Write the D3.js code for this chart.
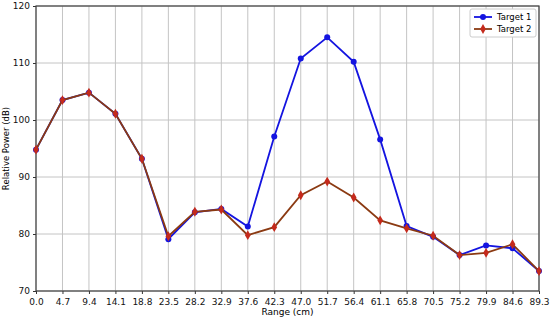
<!DOCTYPE html>
<html>
<head>
<meta charset="utf-8">
<script src="https://cdn.jsdelivr.net/npm/d3@7"></script>
<style>
body { margin: 0; background: #fff; }
text { font-family: "DejaVu Sans", sans-serif; }
</style>
</head>
<body>
<script>
const svgWidth = 550
const svgHeight = 319

const margin = { top: 6, right: 11, bottom: 28, left: 36 }
const chartWidth = svgWidth - margin.left - margin.right
const chartHeight = svgHeight - margin.top - margin.bottom

// range ticks (cm)
const ranges = [0.0, 4.7, 9.4, 14.1, 18.8, 23.5, 28.2, 32.9, 37.6, 42.3,
    47.0, 51.7, 56.4, 61.1, 65.8, 70.5, 75.2, 79.9, 84.6, 89.3]

const target1 = [94.8, 103.5, 104.8, 101.1, 93.2, 79.1, 83.8, 84.4, 81.3, 97.1,
    110.8, 114.5, 110.2, 96.6, 81.4, 79.5, 76.3, 78.0, 77.5, 73.5]

const target2 = [94.8, 103.5, 104.8, 101.1, 93.2, 79.6, 83.9, 84.3, 79.8, 81.2,
    86.8, 89.2, 86.4, 82.4, 81.0, 79.7, 76.3, 76.7, 78.2, 73.5]

const yTicks = [70, 80, 90, 100, 110, 120]

const svg = d3.select("body").append("svg")
    .attr("width", svgWidth)
    .attr("height", svgHeight)

const chartG = svg.append("g")
    .attr("transform", `translate(${margin.left}, ${margin.top})`)

const x = d3.scaleLinear()
    .domain([0, 89.3])
    .range([0, chartWidth])

const y = d3.scaleLinear()
    .domain([70, 120])
    .range([chartHeight, 0])

// grid
chartG.append("g")
    .selectAll("line.vg")
    .data(ranges)
    .enter()
    .append("line")
    .attr("x1", d => x(d)).attr("x2", d => x(d))
    .attr("y1", 0).attr("y2", chartHeight)
    .attr("stroke", "#c4c4c4")
    .attr("stroke-width", 1)

chartG.append("g")
    .selectAll("line.hg")
    .data(yTicks)
    .enter()
    .append("line")
    .attr("x1", 0).attr("x2", chartWidth)
    .attr("y1", d => y(d)).attr("y2", d => y(d))
    .attr("stroke", "#c4c4c4")
    .attr("stroke-width", 1)

const xAxis = d3.axisBottom(x)
    .tickValues(ranges)
    .tickFormat(d3.format(".1f"))
    .tickSize(3)
    .tickSizeOuter(0)

const yAxis = d3.axisLeft(y)
    .tickValues(yTicks)
    .tickSize(3)
    .tickSizeOuter(0)

const xg = chartG.append("g")
    .attr("transform", `translate(0, ${chartHeight})`)
    .call(xAxis)

const yg = chartG.append("g")
    .call(yAxis)

for (const g of [xg, yg]) {
    g.select(".domain").remove()
    g.selectAll("text").attr("font-size", 9).attr("fill", "#111")
    g.selectAll("line").attr("stroke", "#333")
}
xg.selectAll("text").attr("dy", "0.9em")

// frame
chartG.append("rect")
    .attr("width", chartWidth)
    .attr("height", chartHeight)
    .attr("fill", "none")
    .attr("stroke", "#404040")
    .attr("stroke-width", 1.2)

const line = d3.line()
    .x((d, i) => x(ranges[i]))
    .y(d => y(d))

chartG.append("path")
    .attr("d", line(target1))
    .attr("fill", "none")
    .attr("stroke", "#1414e0")
    .attr("stroke-width", 1.8)

chartG.selectAll("circle.t1")
    .data(target1)
    .enter()
    .append("circle")
    .attr("cx", (d, i) => x(ranges[i]))
    .attr("cy", d => y(d))
    .attr("r", 3)
    .attr("fill", "#1414e0")

chartG.append("path")
    .attr("d", line(target2))
    .attr("fill", "none")
    .attr("stroke", "#8b3a12")
    .attr("stroke-width", 1.8)

const diamond = d3.symbol().type(d3.symbolDiamond).size(28)

chartG.selectAll("path.t2")
    .data(target2)
    .enter()
    .append("path")
    .attr("d", diamond)
    .attr("transform", (d, i) => `translate(${x(ranges[i])}, ${y(d)})`)
    .attr("fill", "#c42a1c")

// labels
svg.append("text")
    .attr("x", margin.left + chartWidth / 2)
    .attr("y", svgHeight - 4)
    .attr("text-anchor", "middle")
    .attr("font-size", 9)
    .text("Range (cm)")

svg.append("text")
    .attr("transform", `translate(9, ${margin.top + chartHeight / 2}) rotate(-90)`)
    .attr("text-anchor", "middle")
    .attr("font-size", 8.5)
    .text("Relative Power (dB)")

// legend
const legend = chartG.append("g")
    .attr("transform", `translate(${chartWidth - 69}, 3)`)

legend.append("rect")
    .attr("width", 66)
    .attr("height", 28)
    .attr("rx", 2)
    .attr("fill", "#fff")
    .attr("stroke", "#ccc")

const legendItems = [
    { name: "Target 1", line: "#1414e0", mark: "#1414e0", shape: "circle" },
    { name: "Target 2", line: "#8b3a12", mark: "#c42a1c", shape: "diamond" }
]

legendItems.forEach((item, i) => {
    const ly = 8 + i * 12
    legend.append("line")
        .attr("x1", 4).attr("x2", 22)
        .attr("y1", ly).attr("y2", ly)
        .attr("stroke", item.line)
        .attr("stroke-width", 1.8)
    if (item.shape === "circle") {
        legend.append("circle")
            .attr("cx", 13).attr("cy", ly).attr("r", 3)
            .attr("fill", item.mark)
    } else {
        legend.append("path")
            .attr("d", diamond)
            .attr("transform", `translate(13, ${ly})`)
            .attr("fill", item.mark)
    }
    legend.append("text")
        .attr("x", 27)
        .attr("y", ly + 3)
        .attr("font-size", 8.5)
        .text(item.name)
})
</script>
</body>
</html>
